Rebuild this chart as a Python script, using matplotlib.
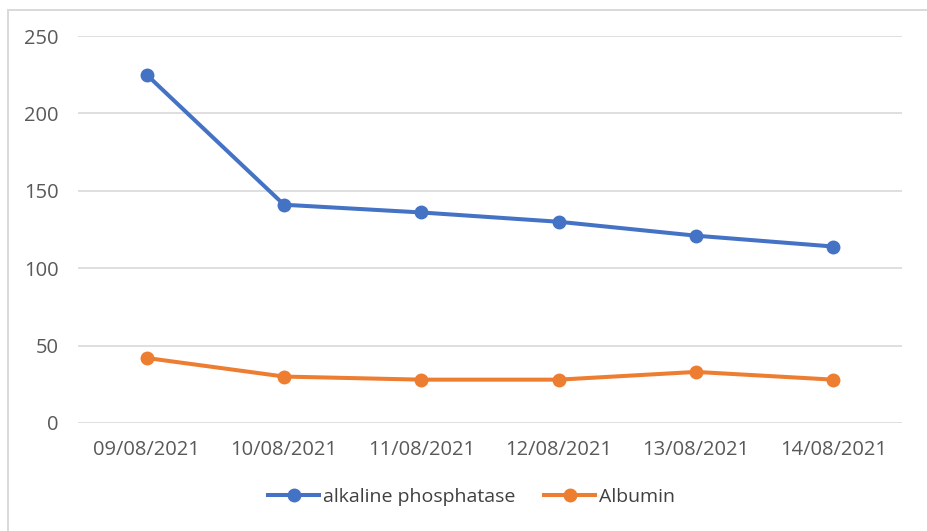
import matplotlib.pyplot as plt
from matplotlib.lines import Line2D

dates = ['09/08/2021', '10/08/2021', '11/08/2021', '12/08/2021', '13/08/2021', '14/08/2021']
alk_phos = [225, 141, 136, 130, 121, 114]
albumin = [42, 30, 28, 28, 33, 28]

plt.rcParams['font.family'] = ['Open Sans', 'DejaVu Sans']

fig = plt.figure(figsize=(9.28, 5.31), dpi=100)
ax = fig.add_axes([78 / 928, 1 - 423 / 531, 824 / 928, 387 / 531])

# light frame: only top and left edges show in the crop
fig.lines.append(Line2D([8 / 928, 1], [1 - 9.5 / 531] * 2, transform=fig.transFigure,
                        color='#d9d9d9', lw=1.4))
fig.lines.append(Line2D([8.5 / 928] * 2, [0, 1 - 9.5 / 531], transform=fig.transFigure,
                        color='#d9d9d9', lw=1.4))

x = range(len(dates))
ax.plot(x, alk_phos, color='#4472c4', lw=2.9, marker='o', ms=9,
        label='alkaline phosphatase')
ax.plot(x, albumin, color='#ed7d31', lw=2.9, marker='o', ms=9,
        label='Albumin')

ax.set_xlim(-0.5, 5.5)
ax.set_ylim(0, 250)
ax.set_yticks(range(0, 251, 50))
ax.set_xticks(list(x))
ax.set_xticklabels(dates)
ax.grid(axis='y', color='#d9d9d9', lw=1.2)
ax.set_axisbelow(True)
for s in ax.spines.values():
    s.set_visible(False)
ax.tick_params(length=0, labelsize=14.5, colors='#595959')
ax.tick_params(axis='x', pad=12)
ax.tick_params(axis='y', pad=14)

leg = fig.legend(loc='center', bbox_to_anchor=(471.5 / 928, 1 - 497 / 531), ncol=2,
                 frameon=False, fontsize=14, handlelength=2.6,
                 columnspacing=1.5, handletextpad=0.2)
for t in leg.get_texts():
    t.set_color('#404040')

fig.savefig('out.png', dpi=100)
